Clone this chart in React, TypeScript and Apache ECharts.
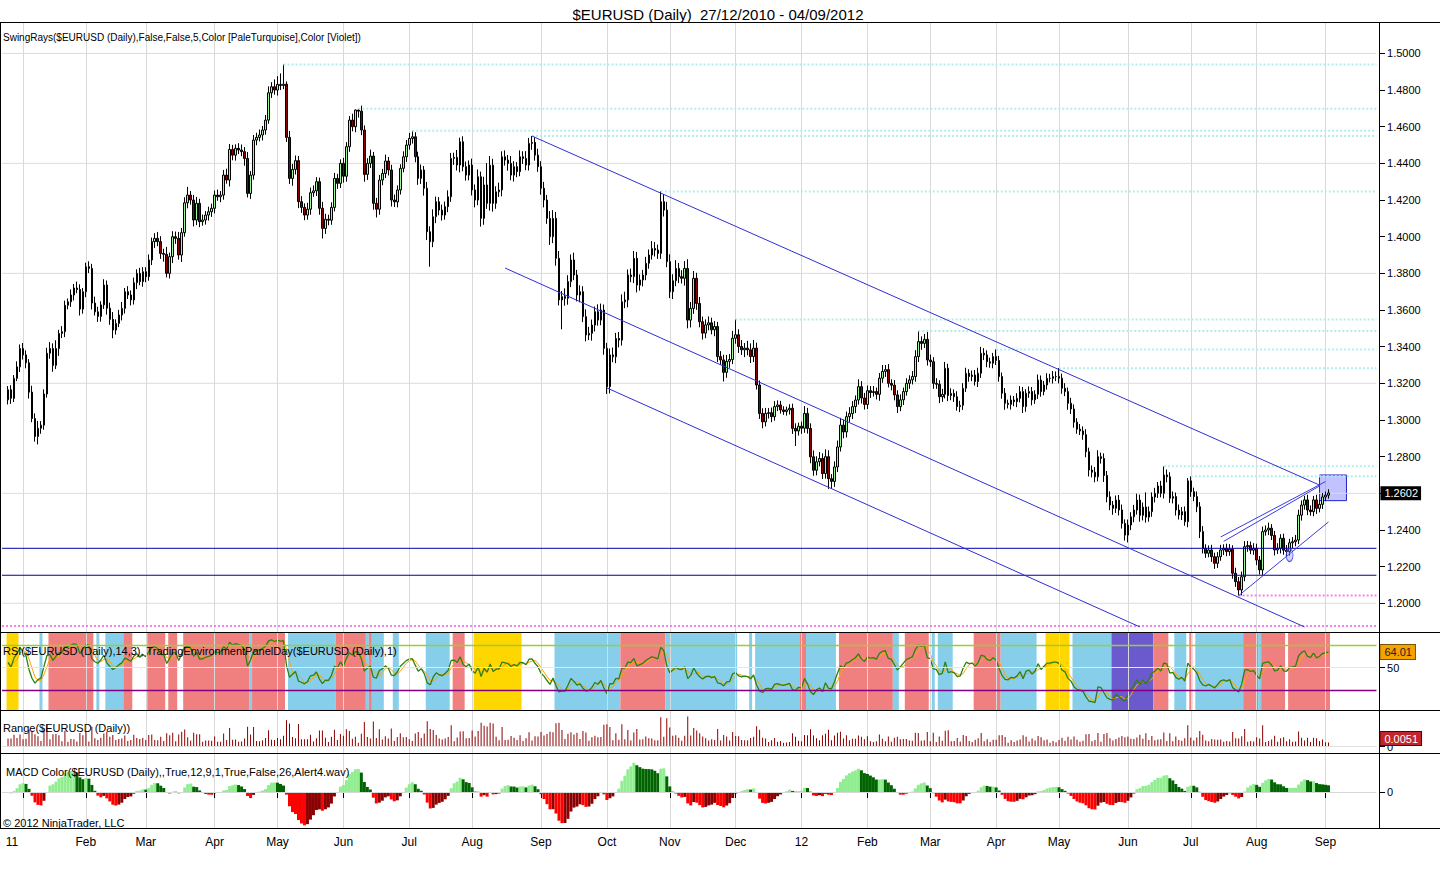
import React, { useEffect, useRef } from "react";
import * as echarts from "echarts";

const FONT = 'Arial, "Liberation Sans", Helvetica, sans-serif';
const TITLE = "$EURUSD (Daily)\u00a0 27/12/2010 - 04/09/2012";
const MONTHS = ["Jan", "Feb", "Mar", "Apr", "May", "Jun", "Jul", "Aug", "Sep", "Oct", "Nov", "Dec"];

const FIRST_OPEN = 1.311;
// daily closes, 27/12/2010 .. 04/09/2012 (weekdays)
const CLOSES = [
  // Dec 2010
  1.3165, 1.3118, 1.3227, 1.329, 1.339,
  // Jan 2011
  1.3355, 1.3312, 1.3152, 1.3008, 1.291, 1.2955, 1.2972, 1.3142, 1.3364, 1.339, 1.3298, 1.339, 1.3472, 1.3482, 1.3626, 1.3645, 1.3682, 1.372, 1.3712, 1.3605, 1.37,
  // Feb 2011
  1.3836, 1.3827, 1.3638, 1.359, 1.3565, 1.3628, 1.3736, 1.361, 1.3549, 1.3491, 1.3527, 1.3573, 1.3609, 1.37, 1.3682, 1.3655, 1.3749, 1.38, 1.3755, 1.3809,
  // Mar 2011
  1.3782, 1.3873, 1.3973, 1.3991, 1.3973, 1.3909, 1.3904, 1.38, 1.3891, 1.4, 1.3991, 1.39, 1.4022, 1.4185, 1.4227, 1.42, 1.4091, 1.4182, 1.4082, 1.4091, 1.4118, 1.4136, 1.4155,
  // Apr 2011
  1.4227, 1.4218, 1.4227, 1.4336, 1.4309, 1.4476, 1.4445, 1.4482, 1.4473, 1.4464, 1.4427, 1.4236, 1.4336, 1.4527, 1.4542, 1.4555, 1.4582, 1.4636, 1.4785, 1.4818, 1.48,
  // May 2011
  1.4831, 1.4825, 1.4832, 1.4542, 1.4318, 1.4367, 1.4415, 1.4191, 1.416, 1.4118, 1.415, 1.424, 1.425, 1.43, 1.4155, 1.4045, 1.4095, 1.409, 1.416, 1.4318, 1.4291, 1.44,
  // Jun 2011
  1.433, 1.4491, 1.4636, 1.46, 1.4691, 1.4685, 1.4582, 1.434, 1.44, 1.444, 1.4182, 1.415, 1.4309, 1.4345, 1.4413, 1.4364, 1.42, 1.419, 1.4255, 1.4373, 1.4436, 1.45,
  // Jul 2011
  1.4536, 1.4545, 1.4436, 1.4318, 1.4364, 1.4264, 1.4027, 1.3973, 1.4109, 1.4191, 1.4145, 1.4118, 1.4164, 1.4218, 1.4427, 1.4433, 1.4391, 1.4518, 1.4382, 1.4336, 1.4391,
  // Aug 2011
  1.4255, 1.42, 1.4327, 1.41, 1.4282, 1.4182, 1.439, 1.4182, 1.4245, 1.4255, 1.4436, 1.4418, 1.44, 1.4336, 1.4382, 1.4355, 1.4436, 1.4427, 1.4391, 1.4509, 1.4515, 1.4445, 1.4382,
  // Sep 2011
  1.4264, 1.42, 1.41, 1.4, 1.41, 1.3882, 1.3655, 1.3673, 1.3664, 1.3755, 1.3873, 1.3791, 1.3682, 1.37, 1.3564, 1.3464, 1.3473, 1.3518, 1.3591, 1.3545, 1.36, 1.3391,
  // Oct 2011
  1.3182, 1.3355, 1.3345, 1.3445, 1.3436, 1.3645, 1.3655, 1.3791, 1.3782, 1.3882, 1.3736, 1.3764, 1.3791, 1.3855, 1.39, 1.3936, 1.3927, 1.3909, 1.4191, 1.4145, 1.3864,
  // Nov 2011
  1.37, 1.376, 1.3827, 1.3782, 1.3773, 1.3827, 1.3545, 1.3609, 1.3773, 1.3636, 1.3536, 1.3474, 1.3519, 1.353, 1.3492, 1.351, 1.3346, 1.3328, 1.326, 1.332, 1.333, 1.3446,
  // Dec 2011
  1.3465, 1.3401, 1.3383, 1.3392, 1.3383, 1.3346, 1.3392, 1.3191, 1.3036, 1.299, 1.3036, 1.304, 1.3018, 1.3073, 1.3082, 1.3055, 1.3046, 1.3055, 1.3064, 1.2954, 1.294, 1.2966,
  // Jan 2012
  1.2955, 1.3036, 1.2954, 1.2799, 1.2726, 1.2772, 1.279, 1.2708, 1.28, 1.268, 1.2665, 1.2744, 1.2853, 1.2972, 1.2935, 1.3018, 1.3035, 1.3073, 1.3109, 1.3182, 1.312, 1.3085,
  // Feb 2012
  1.316, 1.315, 1.3155, 1.314, 1.3228, 1.3265, 1.3275, 1.32, 1.319, 1.3137, 1.3073, 1.311, 1.3155, 1.32, 1.3219, 1.3237, 1.3346, 1.3428, 1.3418, 1.344, 1.3327,
  // Mar 2012
  1.3318, 1.32, 1.3195, 1.3127, 1.314, 1.3282, 1.3133, 1.3145, 1.3127, 1.3073, 1.308, 1.3173, 1.3255, 1.3237, 1.3245, 1.321, 1.3255, 1.3364, 1.3355, 1.3318, 1.331, 1.3346,
  // Apr 2012
  1.3325, 1.3237, 1.3146, 1.3091, 1.3085, 1.3109, 1.31, 1.3118, 1.3155, 1.3073, 1.3146, 1.3155, 1.311, 1.314, 1.3218, 1.3155, 1.3191, 1.3227, 1.3227, 1.3237, 1.3237,
  // May 2012
  1.3228, 1.3173, 1.3155, 1.3091, 1.306, 1.2988, 1.295, 1.294, 1.292, 1.2827, 1.2727, 1.2715, 1.269, 1.28, 1.279, 1.2697, 1.2581, 1.2536, 1.2518, 1.2563, 1.2509, 1.2436, 1.2372,
  // Jun 2012
  1.2427, 1.2472, 1.2509, 1.2563, 1.248, 1.2525, 1.247, 1.25, 1.258, 1.26, 1.264, 1.26, 1.27, 1.269, 1.2573, 1.2582, 1.2509, 1.2482, 1.25, 1.2445, 1.2668,
  // Jul 2012
  1.2609, 1.2582, 1.2527, 1.2391, 1.23, 1.2273, 1.2291, 1.2254, 1.2218, 1.2254, 1.2291, 1.23, 1.2282, 1.2295, 1.2164, 1.2118, 1.2073, 1.2145, 1.2309, 1.2315, 1.229, 1.23,
  // Aug 2012
  1.2236, 1.2182, 1.2391, 1.24, 1.241, 1.237, 1.2291, 1.23, 1.2355, 1.229, 1.2282, 1.233, 1.2336, 1.2345, 1.2481, 1.2536, 1.2564, 1.2509, 1.25, 1.2564, 1.2518, 1.254, 1.258,
  // Sep 2012
  1.259, 1.2602,
];

// upper / lower shadow of each candle, in pips
const WICK_UP = [
  20, 25, 18, 30, 22,
  30, 25, 20, 35, 28, 40, 22, 25, 30, 35, 28, 45, 20, 30, 25, 18, 30, 22, 35, 28, 20,
  22, 30, 25, 35, 28, 20, 32, 25, 30, 40, 22, 28, 35, 20, 30, 25, 28, 22, 30, 25,
  25, 30, 22, 28, 35, 30, 25, 40, 22, 30, 28, 35, 25, 30, 45, 22, 28, 35, 25, 30, 22, 28, 25,
  25, 30, 22, 28, 35, 30, 25, 22, 28, 30, 25, 35, 22, 28, 25, 30, 22, 28, 35, 25, 40,
  45, 60, 108, 15, 35, 30, 28, 25, 30, 22, 35, 28, 30, 25, 22, 35, 30, 25, 28, 30, 25, 22,
  30, 25, 22, 35, 3, 7, 30, 25, 28, 35, 22, 30, 28, 25, 35, 22, 28, 30, 25, 22, 30, 28,
  30, 33, 25, 28, 30, 22, 35, 30, 40, 28, 25, 30, 28, 35, 30, 25, 40, 22, 30, 28, 25,
  35, 30, 40, 28, 45, 120, 50, 35, 30, 40, 30, 35, 28, 40, 30, 25, 35, 30, 40, 30, 34, 28, 35,
  30, 35, 28, 40, 45, 35, 40, 30, 45, 35, 30, 40, 28, 35, 30, 40, 35, 30, 28, 40, 35, 30,
  30, 35, 40, 30, 35, 40, 45, 30, 35, 40, 35, 30, 28, 35, 30, 40, 35, 30, 56, 40, 45,
  40, 35, 45, 30, 35, 40, 50, 35, 40, 30, 35, 28, 30, 35, 28, 30, 25, 30, 28, 35, 30, 40,
  83, 30, 35, 28, 40, 35, 45, 30, 25, 28, 30, 25, 28, 30, 25, 22, 20, 18, 22, 25, 28, 20,
  25, 40, 30, 28, 35, 30, 35, 28, 40, 35, 25, 30, 35, 40, 30, 28, 35, 30, 25, 40, 30, 28,
  28, 25, 30, 22, 28, 35, 25, 30, 22, 28, 25, 30, 22, 28, 25, 30, 35, 58, 28, 30, 40,
  30, 25, 28, 22, 30, 35, 25, 28, 22, 30, 25, 28, 30, 22, 25, 28, 30, 35, 28, 25, 22, 20,
  39, 25, 22, 28, 20, 25, 22, 28, 30, 25, 22, 28, 25, 22, 30, 25, 22, 28, 25, 30, 28,
  46, 25, 28, 22, 30, 25, 22, 28, 25, 30, 22, 25, 28, 35, 22, 28, 25, 30, 22, 25, 28, 30, 22,
  30, 25, 28, 35, 30, 25, 80, 28, 25, 30, 22, 28, 47, 30, 25, 28, 22, 30, 25, 28, 15,
  25, 22, 28, 25, 30, 22, 25, 28, 22, 25, 28, 22, 25, 28, 22, 30, 25, 28, 30, 25, 22, 28,
  25, 22, 28, 25, 30, 22, 25, 28, 22, 25, 28, 22, 25, 28, 30, 25, 22, 28, 25, 22, 28, 25, 22,
  20, 20,
];
const WICK_DN = [
  25, 30, 20, 15, 28,
  25, 30, 35, 20, 28, 43, 30, 25, 20, 30, 35, 20, 40, 25, 30, 22, 28, 30, 20, 35, 25,
  30, 25, 35, 20, 30, 28, 22, 35, 30, 45, 25, 20, 30, 28, 22, 30, 25, 35, 20, 28,
  30, 22, 28, 35, 25, 30, 40, 22, 28, 35, 30, 25, 38, 22, 30, 25, 35, 28, 30, 22, 25, 30, 28,
  28, 22, 30, 25, 20, 35, 28, 30, 22, 25, 40, 22, 30, 25, 28, 22, 30, 25, 20, 28, 25,
  30, 25, 20, 25, 30, 40, 28, 35, 30, 28, 25, 30, 22, 28, 35, 55, 30, 28, 25, 22, 30, 25,
  35, 30, 28, 25, 30, 35, 28, 40, 30, 25, 35, 45, 30, 28, 25, 30, 35, 28, 30, 25, 22, 28,
  25, 28, 30, 35, 30, 40, 45, 137, 30, 35, 28, 30, 25, 30, 28, 35, 30, 40, 25, 30, 28,
  30, 40, 28, 45, 35, 30, 40, 45, 30, 28, 35, 30, 40, 28, 35, 30, 25, 30, 28, 30, 35, 30, 28,
  35, 40, 30, 45, 35, 40, 30, 160, 40, 35, 30, 28, 35, 40, 30, 35, 28, 40, 35, 30, 28, 35,
  40, 37, 30, 35, 40, 30, 35, 40, 30, 35, 40, 30, 35, 28, 30, 25, 35, 30, 30, 35, 30,
  35, 40, 30, 35, 28, 40, 45, 40, 30, 35, 30, 35, 28, 30, 25, 35, 30, 28, 50, 30, 35, 25,
  30, 35, 28, 40, 30, 35, 30, 25, 30, 35, 25, 28, 30, 22, 25, 20, 18, 22, 25, 30, 82, 25,
  30, 25, 28, 35, 30, 28, 25, 30, 28, 56, 40, 30, 28, 25, 35, 30, 28, 30, 35, 25, 30, 28,
  25, 30, 22, 28, 35, 25, 30, 22, 28, 30, 35, 25, 28, 22, 30, 25, 28, 30, 35, 25, 30,
  28, 30, 25, 35, 28, 22, 30, 25, 28, 22, 30, 25, 20, 28, 25, 22, 30, 25, 28, 30, 25, 28,
  25, 28, 30, 35, 22, 28, 25, 30, 22, 35, 28, 25, 30, 22, 25, 28, 20, 25, 22, 28, 25,
  28, 30, 25, 35, 28, 30, 25, 22, 28, 30, 35, 28, 30, 25, 28, 35, 30, 28, 35, 25, 30, 28, 30,
  40, 28, 30, 25, 35, 28, 30, 25, 28, 30, 25, 22, 28, 30, 25, 28, 30, 25, 28, 22, 30,
  28, 25, 30, 35, 28, 25, 22, 28, 30, 25, 22, 28, 25, 22, 30, 28, 31, 30, 25, 28, 22, 25,
  28, 25, 30, 22, 28, 25, 30, 22, 28, 25, 30, 22, 28, 25, 22, 30, 25, 28, 22, 25, 30, 22, 25,
  22, 19,
];

// bars whose highs / lows start a swing ray
const SWING_HIGH_BARS = [92, 117, 135, 175, 218, 243, 304, 330, 351, 386, 395];
const SWING_LOW_BARS = [411];
const OLD_SWING_LOW = 1.1876;

// drawn objects: [bar, price, bar, price]
const CHANNEL_LINES = [
  [175, 1.4549, 438, 1.2645],
  [166, 1.3829, 433, 1.1871],
  [200, 1.3175, 378, 1.1871],
];
const MINI_CHANNEL_LINES = [
  [405, 1.2362, 440, 1.2664],
  [406, 1.2338, 438, 1.264],
  [411, 1.2042, 441, 1.2444],
];
const HORIZONTAL_LEVELS = [1.23, 1.2153];
const TARGET_BOX = [438, 1.27, 447, 1.256];
const MARKER_POINT = [428, 1.2264];

const PRICE_TICKS = [1.2, 1.22, 1.24, 1.26, 1.28, 1.3, 1.32, 1.34, 1.36, 1.38, 1.4, 1.42, 1.44, 1.46, 1.48, 1.5];
const PRICE_GRID = [1.2, 1.26, 1.32, 1.38, 1.44, 1.5];

// Trading environment panel: [firstBar, lastBar, colour]
const ENV_BANDS: [number, number, string][] = [
  [0, 3, "G"], [11, 11, "B"], [14, 28, "S"], [30, 30, "B"], [33, 38, "B"], [39, 41, "S"], [47, 52, "S"],
  [54, 56, "S"], [59, 80, "S"], [81, 81, "B"], [82, 92, "S"], [94, 109, "B"], [110, 119, "S"], [120, 120, "B"],
  [121, 121, "S"], [122, 125, "B"], [129, 130, "B"], [140, 147, "B"], [149, 152, "S"], [156, 171, "G"],
  [183, 204, "B"], [205, 219, "S"], [220, 243, "B"], [248, 248, "B"], [250, 264, "B"], [265, 266, "S"],
  [267, 276, "B"], [278, 295, "S"], [296, 297, "B"], [300, 307, "S"], [309, 309, "B"], [311, 315, "B"],
  [323, 331, "S"], [332, 343, "B"], [347, 354, "G"], [356, 368, "B"], [369, 382, "P"], [383, 387, "S"],
  [390, 393, "B"], [395, 395, "S"], [397, 412, "B"], [413, 417, "S"], [418, 418, "B"], [419, 426, "S"],
  [428, 441, "S"],
];
const BAND_KEYS = ["S", "B", "G", "P"];
const BAND_COLORS = ["#F08080", "#87CEEB", "#FFD700", "#6A5ACD"];

const RSI_PERIOD = 14;
const RSI_SMOOTH = 3;
const RSI_SEED_MOVE = 0.004; // average daily move assumed before the first bar
const MACD_FAST = 12;
const MACD_SLOW = 26;
const MACD_SMOOTH = 9;

function ema(values: number[], n: number) {
  const k = 2 / (n + 1);
  const out: number[] = [];
  values.forEach((v, i) => out.push(i === 0 ? v : out[i - 1] + k * (v - out[i - 1])));
  return out;
}

function buildOption() {
  const N = CLOSES.length;
  const PAD_L = 2;
  const PAD_R = 16;
  const TOTAL = PAD_L + N + PAD_R;
  const STEP = 2.9943;
  const GRID_LEFT = 2.04;
  const GRID_WIDTH = STEP * (TOTAL - 1);

  const opens = CLOSES.map((c, i) => (i === 0 ? FIRST_OPEN : CLOSES[i - 1]));
  const highs = CLOSES.map((c, i) => +(Math.max(opens[i], c) + WICK_UP[i] / 10000).toFixed(4));
  const lows = CLOSES.map((c, i) => +(Math.min(opens[i], c) - WICK_DN[i] / 10000).toFixed(4));
  const ranges = highs.map((h, i) => +(h - lows[i]).toFixed(4));

  // dates / categories
  const dates: Date[] = [];
  let t = Date.UTC(2010, 11, 27);
  while (dates.length < N) {
    const d = new Date(t);
    const wd = d.getUTCDay();
    if (wd !== 0 && wd !== 6) dates.push(d);
    t += 86400000;
  }
  const cats: string[] = [];
  for (let k = 0; k < PAD_L; k++) cats.push("L" + k);
  dates.forEach((d) => cats.push(d.toISOString().slice(0, 10)));
  for (let k = 0; k < PAD_R; k++) cats.push("R" + k);
  const monthLabel = new Map<number, string>();
  dates.forEach((d, i) => {
    if (i === 0) return;
    const m = d.getUTCMonth();
    if (m !== dates[i - 1].getUTCMonth()) {
      monthLabel.set(i + PAD_L, m === 0 ? String(d.getUTCFullYear()).slice(2) : MONTHS[m]);
    }
  });
  const firstMonthIdx = Math.min(...Array.from(monthLabel.keys()));
  const isMonth = (idx: number) => monthLabel.has(idx);

  // RSI (Wilder)
  const rsi: number[] = [];
  let ag = RSI_SEED_MOVE / 2;
  let al = RSI_SEED_MOVE / 2;
  for (let i = 0; i < N; i++) {
    const prev = i === 0 ? FIRST_OPEN : CLOSES[i - 1];
    const d = CLOSES[i] - prev;
    ag = (ag * (RSI_PERIOD - 1) + Math.max(d, 0)) / RSI_PERIOD;
    al = (al * (RSI_PERIOD - 1) + Math.max(-d, 0)) / RSI_PERIOD;
    rsi.push(al === 0 ? 100 : 100 - 100 / (1 + ag / al));
  }
  const rsiAvg = rsi.map((v, i) => {
    const s = rsi.slice(Math.max(0, i - RSI_SMOOTH + 1), i + 1);
    return s.reduce((a, b) => a + b, 0) / s.length;
  });

  // MACD
  const eFast = ema(CLOSES, MACD_FAST);
  const eSlow = ema(CLOSES, MACD_SLOW);
  const macd = CLOSES.map((_, i) => eFast[i] - eSlow[i]);
  const signal = ema(macd, MACD_SMOOTH);
  const diff = macd.map((m, i) => m - signal[i]);
  const macdColor = (i: number) => {
    const up = i === 0 || diff[i] >= diff[i - 1];
    return diff[i] >= 0 ? (up ? "#90EE90" : "#006400") : up ? "#8B0000" : "#FF0000";
  };

  const maxRange = Math.max(...ranges);
  const rUnit = maxRange / 30;
  const maxPos = Math.max(...diff, 0);
  const maxNeg = Math.max(...diff.map((d) => -d), 0);
  const mUnit = Math.max(maxPos / 29.3, maxNeg / 33.3);

  const lastClose = CLOSES[N - 1];
  const lastRsi = rsi[N - 1];
  const lastRange = ranges[N - 1];

  const PMIN = 1.2 + (603.3 - 632.5) / 1833;
  const PMAX = 1.2 + (603.3 - 22.5) / 1833;

  const axisLabelBase = { color: "#000", fontSize: 11, fontFamily: FONT, margin: 8 };
  const tickBase = { show: true, length: 6, lineStyle: { color: "#000", width: 1 } };

  const seg = (x1: number, y1: number, x2: number, y2: number, color: string, extra: any = {}) => ({
    type: "line",
    xAxisIndex: 0,
    yAxisIndex: 0,
    silent: true,
    symbol: "none",
    showSymbol: false,
    data: [
      [x1, y1],
      [x2, y2],
    ],
    lineStyle: { color, width: 1, ...extra },
    z: 4,
  });

  const series: any[] = [];

  PRICE_GRID.forEach((p) => series.push({ ...seg(0, p, TOTAL - 1, p, "#DCDCDC"), z: 1 }));

  series.push({
    type: "candlestick",
    xAxisIndex: 0,
    yAxisIndex: 0,
    barWidth: 2,
    silent: true,
    encode: { x: 0, y: [1, 2, 3, 4] },
    data: CLOSES.map((c, i) => [i + PAD_L, opens[i], c, lows[i], highs[i]]),
    itemStyle: { color: "#98FB98", color0: "#8B0000", borderColor: "#000", borderColor0: "#000", borderWidth: 1 },
    z: 3,
    markLine: {
      silent: true,
      symbol: ["none", "none"],
      animation: false,
      lineStyle: { width: 0, color: "rgba(0,0,0,0)" },
      data: [{ yAxis: lastClose }],
      label: {
        show: true,
        position: "end",
        distance: 4,
        formatter: () => lastClose.toFixed(4),
        color: "#fff",
        backgroundColor: "#000",
        padding: [2, 3, 1, 4],
        fontSize: 11,
        fontFamily: FONT,
      },
    },
  });

  SWING_HIGH_BARS.forEach((b) =>
    series.push(seg(b + PAD_L, highs[b], TOTAL - 1, highs[b], "#AFEEEE", { width: 2, type: [2, 2] }))
  );
  SWING_LOW_BARS.forEach((b) =>
    series.push(seg(b + PAD_L, lows[b], TOTAL - 1, lows[b], "#EE82EE", { width: 2, type: [2, 2] }))
  );
  series.push(seg(0, OLD_SWING_LOW, TOTAL - 1, OLD_SWING_LOW, "#EE82EE", { width: 2, type: [2, 2] }));

  HORIZONTAL_LEVELS.forEach((p) => series.push(seg(0, p, TOTAL - 1, p, "#0000A8")));
  CHANNEL_LINES.forEach(([a, p, b, q]) => series.push(seg(a + PAD_L, p, b + PAD_L, q, "#2E2ED6")));
  MINI_CHANNEL_LINES.forEach(([a, p, b, q], k) => {
    const s: any = seg(a + PAD_L, p, b + PAD_L, q, "#3A3AE0");
    if (k === 0) {
      s.markArea = {
        silent: true,
        itemStyle: { color: "rgba(120,120,255,0.45)", borderColor: "#2222CC", borderWidth: 1 },
        data: [[{ coord: [TARGET_BOX[0] + PAD_L, TARGET_BOX[1]] }, { coord: [TARGET_BOX[2] + PAD_L, TARGET_BOX[3]] }]],
      };
    }
    series.push(s);
  });
  series.push({
    type: "scatter",
    xAxisIndex: 0,
    yAxisIndex: 0,
    silent: true,
    symbol: "circle",
    symbolSize: [7, 13],
    data: [[MARKER_POINT[0] + PAD_L, MARKER_POINT[1]]],
    itemStyle: { color: "rgba(130,130,255,0.45)", borderColor: "#3333DD", borderWidth: 1 },
    z: 5,
  });

  // RSI panel
  series.push({
    type: "custom",
    xAxisIndex: 1,
    yAxisIndex: 1,
    silent: true,
    encode: { x: [0, 1], y: 2 },
    data: ENV_BANDS.map(([s, e, c]) => [s + PAD_L, e + PAD_L, BAND_KEYS.indexOf(c)]),
    renderItem: (params: any, api: any) => {
      const x0 = api.coord([api.value(0), 50])[0];
      const x1 = api.coord([api.value(1), 50])[0];
      const w = api.size([1, 0])[0];
      const cs = params.coordSys;
      return {
        type: "rect",
        shape: { x: x0 - w / 2, y: cs.y, width: x1 - x0 + w, height: cs.height },
        style: { fill: BAND_COLORS[api.value(2)] },
      };
    },
    z: 1,
  });
  series.push({
    type: "line",
    xAxisIndex: 1,
    yAxisIndex: 1,
    silent: true,
    symbol: "none",
    data: rsiAvg.map((v, i) => [i + PAD_L, +v.toFixed(2)]),
    lineStyle: { color: "#FFA500", width: 1 },
    z: 2,
  });
  series.push({
    type: "line",
    xAxisIndex: 1,
    yAxisIndex: 1,
    silent: true,
    symbol: "none",
    data: rsi.map((v, i) => [i + PAD_L, +v.toFixed(2)]),
    lineStyle: { color: "#2F7F12", width: 1.3 },
    z: 2,
    markLine: {
      silent: true,
      symbol: ["none", "none"],
      animation: false,
      lineStyle: { type: "solid", width: 1 },
      label: { show: false },
      data: [
        { yAxis: 70, lineStyle: { color: "#9ACD32", width: 1.3, type: "solid" } },
        { yAxis: 30, lineStyle: { color: "#800080", width: 1.3, type: "solid" } },
        { yAxis: 50, lineStyle: { color: "#E6E6E6", width: 1, type: "solid" } },
        {
          yAxis: +lastRsi.toFixed(2),
          lineStyle: { width: 0, color: "rgba(0,0,0,0)" },
          label: {
            show: true,
            position: "end",
            distance: 4,
            formatter: () => lastRsi.toFixed(2),
            color: "#222",
            backgroundColor: "#F5A300",
            borderColor: "#7A5200",
            borderWidth: 1,
            padding: [2, 3, 1, 4],
            fontSize: 11,
            fontFamily: FONT,
          },
        },
      ],
    },
  });

  // Range panel
  series.push({
    type: "bar",
    xAxisIndex: 2,
    yAxisIndex: 2,
    silent: true,
    barWidth: 1,
    data: ranges.map((r, i) => [i + PAD_L, r]),
    itemStyle: { color: "#8B0000" },
    z: 2,
    markLine: {
      silent: true,
      symbol: ["none", "none"],
      animation: false,
      label: { show: false },
      data: [
        { yAxis: 0, lineStyle: { color: "#E0E0E0", width: 1, type: "solid" } },
        {
          yAxis: lastRange,
          lineStyle: { width: 0, color: "rgba(0,0,0,0)" },
          label: {
            show: true,
            position: "end",
            distance: 4,
            formatter: () => lastRange.toFixed(4),
            color: "#fff",
            backgroundColor: "#C0272D",
            borderColor: "#5A0000",
            borderWidth: 1,
            padding: [1, 3, 1, 4],
            fontSize: 11,
            fontFamily: FONT,
          },
        },
      ],
    },
  });

  // MACD panel
  series.push({
    type: "bar",
    xAxisIndex: 3,
    yAxisIndex: 3,
    silent: true,
    barWidth: "100%",
    data: diff.map((d, i) => ({ value: [i + PAD_L, d], itemStyle: { color: macdColor(i) } })),
    z: 2,
    markLine: {
      silent: true,
      symbol: ["none", "none"],
      animation: false,
      label: { show: false },
      data: [{ yAxis: 0, lineStyle: { color: "#D8D8D8", width: 1, type: "solid" } }],
    },
  });

  const xAxis = [0, 1, 2, 3].map((g) => ({
    gridIndex: g,
    type: "category",
    data: cats,
    boundaryGap: false,
    z: g === 1 ? 3 : 0,
    axisLine: { show: false },
    axisTick:
      g === 3
        ? { show: true, interval: (i: number) => isMonth(i), length: 6, lineStyle: { color: "#000" } }
        : { show: false },
    axisLabel:
      g === 3
        ? {
            show: true,
            interval: (i: number) => isMonth(i),
            formatter: (_v: string, i: number) =>
              i === firstMonthIdx ? `{shift|${monthLabel.get(i)}}` : monthLabel.get(i) || "",
            color: "#000",
            fontSize: 12,
            fontFamily: FONT,
            margin: 7,
            rich: { shift: { padding: [0, 22, 0, 0], fontSize: 12, fontFamily: FONT, color: "#000" } },
          }
        : { show: false },
    splitLine: { show: true, interval: (i: number) => isMonth(i), lineStyle: { color: "#D9D9D9", width: 1 } },
  }));

  const yBase = (g: number, min: number, max: number, ticks: number[], fmt: (v: number) => string) => ({
    gridIndex: g,
    type: "value",
    position: "right",
    offset: 2.6,
    min,
    max,
    scale: true,
    splitLine: { show: false },
    axisLine: { show: false },
    axisTick: { ...tickBase, customValues: ticks },
    axisLabel: { ...axisLabelBase, customValues: ticks, formatter: fmt },
  });

  const yAxis = [
    yBase(0, PMIN, PMAX, PRICE_TICKS, (v) => v.toFixed(4)),
    yBase(1, 11.96, 81.29, [50], (v) => String(Math.round(v))),
    yBase(2, -7 * rUnit, 36 * rUnit, [0], () => "0"),
    yBase(3, -36.5 * mUnit, 38.5 * mUnit, [0], () => "0"),
  ];

  const hline = (y: number) => ({
    type: "line",
    shape: { x1: 0, y1: y, x2: 1440, y2: y },
    style: { stroke: "#000", lineWidth: 1 },
    z: 100,
    silent: true,
  });
  const vline = (x: number) => ({
    type: "line",
    shape: { x1: x, y1: 22.5, x2: x, y2: 828.5 },
    style: { stroke: "#000", lineWidth: 1 },
    z: 100,
    silent: true,
  });
  const text = (x: number, y: number, s: string, size: number, align = "left") => ({
    type: "text",
    x,
    y,
    silent: true,
    z: 101,
    style: { text: s, fontSize: size, fontFamily: FONT, fill: "#000", align, verticalAlign: "middle" },
  });

  return {
    animation: false,
    backgroundColor: "#fff",
    grid: [
      { left: GRID_LEFT, width: GRID_WIDTH, top: 22.5, height: 610 },
      { left: GRID_LEFT, width: GRID_WIDTH, top: 632.5, height: 78 },
      { left: GRID_LEFT, width: GRID_WIDTH, top: 710.5, height: 43 },
      { left: GRID_LEFT, width: GRID_WIDTH, top: 753.5, height: 75 },
    ],
    xAxis,
    yAxis,
    series,
    graphic: [
      hline(22.5),
      hline(632.5),
      hline(710.5),
      hline(753.5),
      hline(828.5),
      vline(0.5),
      vline(1379.5),
      text(718, 14, TITLE, 15, "center"),
      text(3, 37, "SwingRays($EURUSD (Daily),False,False,5,Color [PaleTurquoise],Color [Violet])", 10),
      text(3, 651, "RSI($EURUSD (Daily),14,3), TradingEnvironmentPanelDay($EURUSD (Daily),1)", 11),
      text(3, 728, "Range($EURUSD (Daily))", 11),
      text(6, 772, "MACD Color($EURUSD (Daily),,True,12,9,1,True,False,26,Alert4.wav)", 11),
      text(3, 823, "\u00a9 2012 NinjaTrader, LLC", 11),
    ],
  };
}

export default function App() {
  const ref = useRef<HTMLDivElement>(null);
  useEffect(() => {
    if (!ref.current) return;
    const chart = echarts.init(ref.current, undefined, { renderer: "svg" });
    chart.setOption(buildOption() as any);
    return () => chart.dispose();
  }, []);
  return (
    <div
      ref={ref}
      style={{ position: "fixed", left: 0, top: 0, width: 1440, height: 875, background: "#fff" }}
    />
  );
}
